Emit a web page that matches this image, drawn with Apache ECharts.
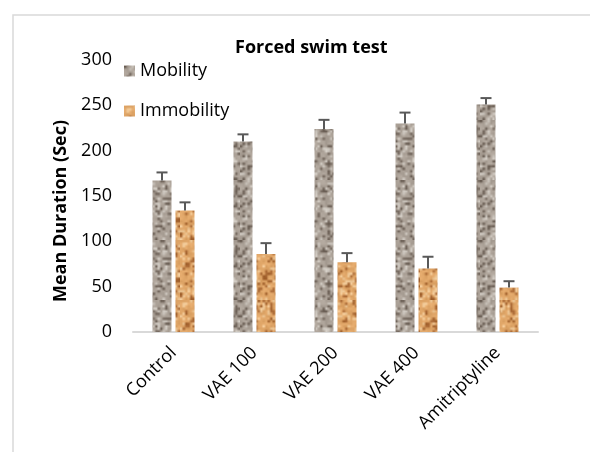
<!DOCTYPE html>
<html>
<head>
<meta charset="utf-8">
<script src="https://cdn.jsdelivr.net/npm/echarts@6/dist/echarts.min.js"></script>
<style>
html,body{margin:0;padding:0;background:#fff;}
#c{width:590px;height:452px;}
</style>
</head>
<body>
<div id="c"></div>
<script>
var categories = ['Control', 'VAE 100', 'VAE 200', 'VAE 400', 'Amitriptyline'];
var mobility = [167, 210, 224, 230, 251];
var mobilityErr = [9, 8, 10, 12, 7];
var immobility = [134, 86, 77, 70, 49];
var immobilityErr = [9, 12, 10, 13, 7];
var yTicks = [0, 50, 100, 150, 200, 250, 300];

function hash(x, y, s) {
  var h = (x * 374761393 + y * 668265263 + s * 982451653) | 0;
  h = (h ^ (h >>> 13)) * 1274126177 | 0;
  h = h ^ (h >>> 16);
  return ((h >>> 0) % 10000) / 10000;
}
function makePattern(base, dark, light, seed) {
  var small = 24, size = 60;
  var sc = document.createElement('canvas');
  sc.width = small; sc.height = small;
  var sctx = sc.getContext('2d');
  var img = sctx.createImageData(small, small);
  for (var y = 0; y < small; y++) {
    for (var x = 0; x < small; x++) {
      var n = hash(x, y, seed);
      var n2 = hash(x, y, seed + 7);
      var c;
      if (n < 0.2) c = dark;
      else if (n > 0.82) c = light;
      else c = base;
      var j = (n2 - 0.5) * 20;
      var i = (y * small + x) * 4;
      img.data[i] = Math.max(0, Math.min(255, c[0] + j));
      img.data[i + 1] = Math.max(0, Math.min(255, c[1] + j));
      img.data[i + 2] = Math.max(0, Math.min(255, c[2] + j));
      img.data[i + 3] = 255;
    }
  }
  sctx.putImageData(img, 0, 0);
  var cv = document.createElement('canvas');
  cv.width = size; cv.height = size;
  var ctx = cv.getContext('2d');
  ctx.imageSmoothingEnabled = true;
  ctx.drawImage(sc, 0, 0, size, size);
  return { image: cv, repeat: 'repeat' };
}
var mobPattern = makePattern([172, 162, 152], [110, 98, 88], [208, 202, 194], 3);
var immPattern = makePattern([224, 166, 104], [165, 100, 48], [242, 204, 155], 11);

var chart = echarts.init(document.getElementById('c'), null, { renderer: 'canvas' });
var font = 'Open Sans';
var BW = 19, GAP = 4;
var offs = (BW + GAP) / 2;

function errSeries(vals, errs, sign) {
  return {
    type: 'custom',
    z: 5,
    silent: true,
    data: vals.map(function (v, i) { return [i, v, errs[i]]; }),
    renderItem: function (params, api) {
      var idx = api.value(0), v = api.value(1), e = api.value(2);
      var p0 = api.coord([idx, v]);
      var p1 = api.coord([idx, v + e]);
      var x = p0[0] + sign * offs;
      var st = { stroke: '#595959', lineWidth: 2 };
      return {
        type: 'group',
        children: [
          { type: 'line', shape: { x1: x, y1: p0[1], x2: x, y2: p1[1] }, style: st },
          { type: 'line', shape: { x1: x - 5.5, y1: p1[1], x2: x + 5.5, y2: p1[1] }, style: st }
        ]
      };
    }
  };
}

chart.setOption({
  animation: false,
  backgroundColor: '#fff',
  title: {
    text: 'Forced swim test',
    left: 230, top: 34,
    textStyle: { fontFamily: font, fontWeight: 'bold', fontSize: 18, color: '#000' }
  },
  graphic: [{
    type: 'rect', shape: { x: 13, y: 15, width: 700, height: 600 },
    style: { fill: 'none', stroke: '#d9d9d9', lineWidth: 1.5 }, silent: true
  }],
  legend: {
    orient: 'vertical', left: 119, top: 57,
    itemWidth: 11, itemHeight: 11, itemGap: 22,
    icon: 'rect',
    data: ['Mobility', 'Immobility'],
    textStyle: { fontFamily: font, fontSize: 18, color: '#000', lineHeight: 18 }
  },
  grid: { left: 133, right: 52, top: 60, bottom: 120 },
  xAxis: {
    type: 'category', data: categories,
    axisLine: { lineStyle: { color: '#d9d9d9', width: 2 } },
    axisTick: { show: false },
    axisLabel: { rotate: 45, fontFamily: font, fontSize: 18, color: '#000', margin: 18, interval: 0 }
  },
  yAxis: {
    type: 'value', min: yTicks[0], max: yTicks[yTicks.length - 1], interval: 50,
    name: 'Mean Duration (Sec)', nameLocation: 'middle', nameGap: 58,
    nameTextStyle: { fontFamily: font, fontWeight: 'bold', fontSize: 18, color: '#000', padding: [0, 30, 0, 0] },
    axisLine: { show: false }, axisTick: { show: false }, splitLine: { show: false },
    axisLabel: { fontFamily: font, fontSize: 18, color: '#000', margin: 21 }
  },
  series: [
    { name: 'Mobility', type: 'bar', data: mobility, barWidth: BW, barGap: (GAP / BW * 100) + '%',
      itemStyle: { color: mobPattern } },
    { name: 'Immobility', type: 'bar', data: immobility, barWidth: BW,
      itemStyle: { color: immPattern } },
    errSeries(mobility, mobilityErr, -1),
    errSeries(immobility, immobilityErr, 1)
  ]
});
</script>
</body>
</html>
